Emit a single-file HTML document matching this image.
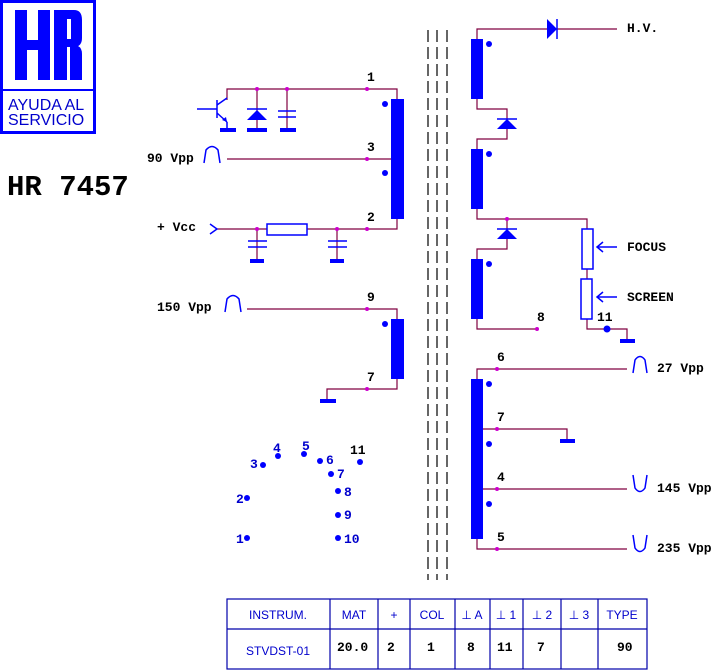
<!DOCTYPE html>
<html><head><meta charset="utf-8"><style>
body{margin:0;background:#fff}
svg{display:block}
.m{font-family:"Liberation Mono",monospace;font-weight:bold;font-size:13px;fill:#000}
.b{font-family:"Liberation Sans",sans-serif;fill:#00c}
.bm{font-family:"Liberation Mono",monospace;font-weight:bold;font-size:13px;fill:#00c}
</style></head><body>
<svg width="722" height="670" viewBox="0 0 722 670" xmlns="http://www.w3.org/2000/svg">
<!-- logo -->
<rect x="1.5" y="1.5" width="93" height="131" fill="none" stroke="#00f" stroke-width="3"/>
<line x1="1" y1="90" x2="96" y2="90" stroke="#00f" stroke-width="2"/>
<g fill="#00f">
<rect x="15" y="10" width="12" height="70"/><rect x="38" y="10" width="12" height="70"/><rect x="25" y="40" width="15" height="10"/>
<rect x="54" y="10" width="13" height="70"/>
<path d="M66 10 H74 Q82 10 82 20 V38 Q82 46 75 47 H66 Z"/>
<path d="M70 46 H78 Q82 48 82 54 V80 H70 Z"/>
</g>
<rect x="67" y="19" width="4" height="20" fill="#fff"/>
<text x="8" y="110" class="b" font-size="16">AYUDA AL</text>
<text x="8" y="125" class="b" font-size="16">SERVICIO</text>
<text x="7" y="195" font-family="Liberation Mono,monospace" font-weight="bold" font-size="29">HR 7457</text>

<g stroke="#800040" stroke-width="1.2" fill="none">
<polyline points="227,100 227,89 397,89 397,99"/>
<line x1="257" y1="89" x2="257" y2="128"/><line x1="287" y1="89" x2="287" y2="128"/>
<line x1="227" y1="159" x2="399" y2="159"/>
<polyline points="217,229 397,229 397,219"/>
<line x1="257" y1="229" x2="257" y2="259"/><line x1="337" y1="229" x2="337" y2="259"/>
<polyline points="247,309 397,309 397,319"/>
<polyline points="327,399 327,389 397,389 397,379"/>
<polyline points="477,39 477,29 617,29"/>
<polyline points="477,99 477,109 507,109 507,139 477,139 477,149"/>
<polyline points="477,209 477,219 587,219 587,229"/>
<polyline points="507,219 507,249 477,249 477,259"/>
<polyline points="477,319 477,329 537,329"/>
<line x1="587" y1="269" x2="587" y2="279"/>
<polyline points="587,319 587,329 627,329 627,339"/>
<polyline points="477,379 477,369 627,369"/>
<polyline points="477,429 567,429 567,439"/>
<line x1="477" y1="489" x2="627" y2="489"/>
<polyline points="477,539 477,549 627,549"/>
</g>
<g stroke="#000" stroke-width="1.2" stroke-dasharray="12,5">
<line x1="428" y1="30" x2="428" y2="580"/><line x1="437" y1="30" x2="437" y2="580"/><line x1="447" y1="30" x2="447" y2="580"/>
</g>
<g fill="#00f">
<rect x="391" y="99" width="13" height="120"/><rect x="391" y="319" width="13" height="60"/>
<rect x="471" y="39" width="12" height="60"/><rect x="471" y="149" width="12" height="60"/><rect x="471" y="259" width="12" height="60"/>
<rect x="471" y="379" width="12" height="160"/>
<circle cx="385" cy="104" r="3"/><circle cx="385" cy="173" r="3"/><circle cx="385" cy="324" r="3"/>
<circle cx="489" cy="44" r="3"/><circle cx="489" cy="154" r="3"/><circle cx="489" cy="264" r="3"/>
<circle cx="489" cy="384" r="3"/><circle cx="489" cy="444" r="3"/><circle cx="489" cy="504" r="3"/>
<circle cx="607" cy="329" r="3.5"/>
<rect x="220" y="128" width="16" height="4"/><rect x="247" y="128" width="20" height="4"/><rect x="280" y="128" width="16" height="4"/>
<rect x="250" y="259" width="14" height="4"/><rect x="330" y="259" width="14" height="4"/>
<rect x="320" y="399" width="16" height="4"/><rect x="620" y="339" width="15" height="4"/><rect x="560" y="439" width="15" height="4"/>
<polygon points="247,120 267,120 257,110"/>
<polygon points="547,19 547,39 557,29"/>
<polygon points="497,129 517,129 507,119"/>
<polygon points="497,239 517,239 507,229"/>
</g>
<g stroke="#00f" stroke-width="1.5" fill="none">
<line x1="247" y1="109" x2="267" y2="109"/><line x1="557" y1="19" x2="557" y2="39"/>
<line x1="497" y1="119" x2="517" y2="119"/><line x1="497" y1="229" x2="517" y2="229"/>
<line x1="278" y1="111" x2="296" y2="111"/><line x1="278" y1="117" x2="296" y2="117"/>
<line x1="248" y1="241" x2="267" y2="241"/><line x1="248" y1="247" x2="267" y2="247"/>
<line x1="328" y1="241" x2="347" y2="241"/><line x1="328" y1="247" x2="347" y2="247"/>
<line x1="197" y1="109" x2="217" y2="109"/><line x1="217" y1="100" x2="217" y2="118"/>
<line x1="217" y1="105" x2="227" y2="98"/><line x1="217" y1="113" x2="227" y2="122"/><line x1="227" y1="122" x2="227" y2="128"/>
<rect x="267" y="224" width="40" height="11" fill="#fff"/>
<rect x="582" y="229" width="11" height="40" fill="#fff"/><rect x="581" y="279" width="11" height="40" fill="#fff"/>
<line x1="597" y1="247" x2="617" y2="247"/><polyline points="603,242 597,247 603,252"/>
<line x1="597" y1="297" x2="617" y2="297"/><polyline points="603,292 597,297 603,302"/>
<polyline points="210,224 217,229 210,234"/>
<path d="M204 163 L206 150 Q212 143 218 150 L220 163"/>
<path d="M225 312 L227 299 Q233 292 239 299 L241 312"/>
<path d="M633 373 L635 360 Q640 353 645 360 L647 373"/>
<path d="M633 475 L635 488 Q640 495 645 488 L647 475"/>
<path d="M633 535 L635 548 Q640 555 645 548 L647 535"/>
</g>
<polygon points="227,122 222,120 226,117" fill="#00f"/>
<g fill="#c0c">
<circle cx="257" cy="89" r="2"/><circle cx="287" cy="89" r="2"/><circle cx="367" cy="89" r="2"/>
<circle cx="367" cy="159" r="2"/><circle cx="257" cy="229" r="2"/><circle cx="337" cy="229" r="2"/><circle cx="367" cy="229" r="2"/>
<circle cx="367" cy="309" r="2"/><circle cx="367" cy="389" r="2"/>
<circle cx="507" cy="219" r="2"/><circle cx="537" cy="329" r="2"/>
<circle cx="497" cy="369" r="2"/><circle cx="497" cy="429" r="2"/><circle cx="497" cy="489" r="2"/><circle cx="497" cy="549" r="2"/>
</g>
<text class="m" x="367" y="81">1</text><text class="m" x="367" y="151">3</text><text class="m" x="367" y="221">2</text>
<text class="m" x="367" y="301">9</text><text class="m" x="367" y="381">7</text>
<text class="m" x="147" y="162">90 Vpp</text><text class="m" x="157" y="231">+ Vcc</text><text class="m" x="157" y="311">150 Vpp</text>
<text class="m" x="627" y="32">H.V.</text><text class="m" x="627" y="251">FOCUS</text><text class="m" x="627" y="301">SCREEN</text>
<text class="m" x="537" y="321">8</text><text class="m" x="597" y="321">11</text>
<text class="m" x="497" y="361">6</text><text class="m" x="497" y="421">7</text><text class="m" x="497" y="481">4</text><text class="m" x="497" y="541">5</text>
<text class="m" x="657" y="372">27 Vpp</text><text class="m" x="657" y="492">145 Vpp</text><text class="m" x="657" y="552">235 Vpp</text>
<g fill="#00f">
<circle cx="247" cy="538" r="3"/><circle cx="247" cy="498" r="3"/><circle cx="263" cy="465" r="3"/><circle cx="278" cy="456" r="3"/>
<circle cx="304" cy="454" r="3"/><circle cx="320" cy="461" r="3"/><circle cx="331" cy="474" r="3"/><circle cx="338" cy="491" r="3"/>
<circle cx="338" cy="515" r="3"/><circle cx="338" cy="538" r="3"/><circle cx="360" cy="462" r="3"/>
</g>
<text class="bm" x="236" y="543">1</text><text class="bm" x="236" y="503">2</text><text class="bm" x="250" y="468">3</text>
<text class="bm" x="273" y="452">4</text><text class="bm" x="302" y="450">5</text><text class="bm" x="326" y="464">6</text>
<text class="bm" x="337" y="478">7</text><text class="bm" x="344" y="496">8</text><text class="bm" x="344" y="519">9</text>
<text class="bm" x="344" y="543">10</text><text class="m" x="350" y="454">11</text>
<g stroke="#00a" stroke-width="1.2" fill="none">
<rect x="227" y="599" width="420" height="70"/><line x1="227" y1="629" x2="647" y2="629"/>
<line x1="330" y1="599" x2="330" y2="669"/><line x1="378" y1="599" x2="378" y2="669"/><line x1="410" y1="599" x2="410" y2="669"/>
<line x1="455" y1="599" x2="455" y2="669"/><line x1="490" y1="599" x2="490" y2="669"/><line x1="523" y1="599" x2="523" y2="669"/>
<line x1="561" y1="599" x2="561" y2="669"/><line x1="598" y1="599" x2="598" y2="669"/>
</g>
<g class="b" font-size="12" text-anchor="middle">
<text x="278" y="619">INSTRUM.</text><text x="354" y="619">MAT</text><text x="394" y="619">+</text><text x="432" y="619">COL</text>
<text x="472" y="619">⊥ A</text><text x="506" y="619">⊥ 1</text><text x="542" y="619">⊥ 2</text><text x="579" y="619">⊥ 3</text><text x="622" y="619">TYPE</text>
<text x="278" y="655">STVDST-01</text>
</g>
<text class="m" x="337" y="651">20.0</text><text class="m" x="387" y="651">2</text><text class="m" x="427" y="651">1</text>
<text class="m" x="467" y="651">8</text><text class="m" x="497" y="651">11</text><text class="m" x="537" y="651">7</text><text class="m" x="617" y="651">90</text>
</svg>
</body></html>
